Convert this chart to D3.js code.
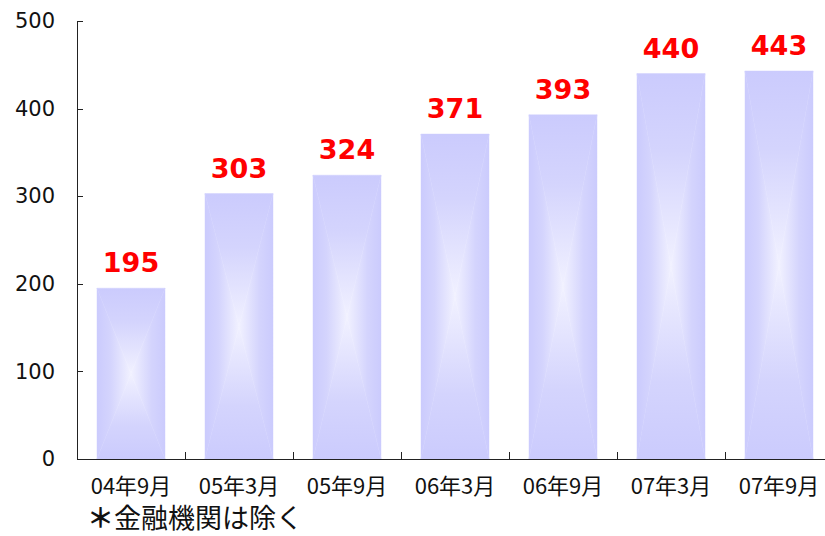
<!DOCTYPE html>
<html>
<head>
<meta charset="utf-8">
<script src="https://cdn.jsdelivr.net/npm/d3@7"></script>
<style>
  html, body { margin: 0; padding: 0; background: #fff; }
  svg { display: block; }
  .axis path, .axis line { stroke: #222; shape-rendering: crispEdges; }
  .y-label { font-family: "DejaVu Sans", sans-serif; font-size: 21px; fill: #111; }
  .x-label { font-family: "Noto Sans CJK JP", sans-serif; font-size: 22px; fill: #111; }
  .value-label { font-family: "DejaVu Sans", sans-serif; font-weight: bold; font-size: 27px; fill: #ff0000; }
  .note { font-family: "Noto Sans CJK JP", sans-serif; font-size: 27px; fill: #111; }
</style>
</head>
<body>
<div id="chart"></div>
<script>
// data
var categories = ['04年9月', '05年3月', '05年9月', '06年3月', '06年9月', '07年3月', '07年9月'];
var counts = [195, 303, 324, 371, 393, 440, 443];
var yTicks = [0, 100, 200, 300, 400, 500];
var footnoteMark = '＊';
var footnote = '金融機関は除く';

var width = 825,
    height = 536,
    margin = { top: 21, left: 77, bottom: 77 },
    step = 108;

var svg = d3.select('#chart').append('svg')
  .attr('width', width)
  .attr('height', height);

// band per category, bar takes the middle part of each band
var x = d3.scaleBand()
  .domain(categories)
  .range([margin.left, margin.left + step * categories.length])
  .padding(0);

var barWidth = x.bandwidth() * 0.63;

var y = d3.scaleLinear()
  .domain([0, 500])
  .range([height - margin.bottom, margin.top]);

// rectangular "from centre" fill: four triangles, each shaded edge -> centre
var gradStops = [
  { offset: '0%', color: '#cbcbfd' },
  { offset: '40%', color: '#d4d4fd' },
  { offset: '100%', color: '#f1f1ff' }
];

var defs = svg.append('defs');
[
  { id: 'g-top', x1: 0, y1: 0, x2: 0, y2: 1 },
  { id: 'g-bottom', x1: 0, y1: 1, x2: 0, y2: 0 },
  { id: 'g-left', x1: 0, y1: 0, x2: 1, y2: 0 },
  { id: 'g-right', x1: 1, y1: 0, x2: 0, y2: 0 }
].forEach(function(g) {
  var grad = defs.append('linearGradient')
    .attr('id', g.id)
    .attr('x1', g.x1).attr('y1', g.y1)
    .attr('x2', g.x2).attr('y2', g.y2);
  gradStops.forEach(function(s) {
    grad.append('stop').attr('offset', s.offset).attr('stop-color', s.color);
  });
});

var bars = svg.append('g')
  .attr('class', 'bars')
  .selectAll('g.bar')
  .data(categories.map(function(c, i) { return { cat: c, value: counts[i] }; }))
  .enter()
  .append('g')
  .attr('class', 'bar');

bars.each(function(d) {
  var g = d3.select(this),
      x0 = x(d.cat) + (x.bandwidth() - barWidth) / 2,
      x1 = x0 + barWidth,
      y0 = y(d.value),
      y1 = y(0),
      cx = (x0 + x1) / 2,
      cy = (y0 + y1) / 2;

  var tris = [
    { fill: 'g-top', pts: [[x0, y0], [x1, y0], [cx, cy]] },
    { fill: 'g-bottom', pts: [[x0, y1], [x1, y1], [cx, cy]] },
    { fill: 'g-left', pts: [[x0, y0], [x0, y1], [cx, cy]] },
    { fill: 'g-right', pts: [[x1, y0], [x1, y1], [cx, cy]] }
  ];

  g.selectAll('path')
    .data(tris)
    .enter()
    .append('path')
    .attr('d', function(t) { return 'M' + t.pts.join('L') + 'Z'; })
    .attr('fill', function(t) { return 'url(#' + t.fill + ')'; })
    .attr('stroke', function(t) { return 'url(#' + t.fill + ')'; })
    .attr('stroke-width', 0.4);
});

// value labels above bars
bars.append('text')
  .attr('class', 'value-label')
  .attr('x', function(d) { return x(d.cat) + x.bandwidth() / 2; })
  .attr('y', function(d) { return y(d.value) - 16; })
  .attr('text-anchor', 'middle')
  .text(function(d) { return d.value; });

// y axis, ticks pointing into the plot
var yAxis = svg.append('g')
  .attr('class', 'axis y-axis')
  .attr('transform', 'translate(' + margin.left + ',0)')
  .call(d3.axisLeft(y)
    .tickValues(yTicks)
    .tickSizeInner(-6)
    .tickSizeOuter(0)
    .tickPadding(22));

yAxis.attr('font-size', null).attr('font-family', null);
yAxis.selectAll('text')
  .attr('class', 'y-label')
  .attr('fill', null);

// x axis: baseline, boundary ticks pointing up, centred labels
var xAxis = svg.append('g')
  .attr('class', 'axis x-axis')
  .attr('transform', 'translate(0,' + y(0) + ')');

xAxis.append('line')
  .attr('x1', margin.left)
  .attr('x2', x.range()[1])
  .attr('y1', 0.5)
  .attr('y2', 0.5);

xAxis.selectAll('line.tick')
  .data(categories)
  .enter()
  .append('line')
  .attr('class', 'tick')
  .attr('x1', function(d) { return Math.round(x(d) + x.bandwidth()) + 0.5; })
  .attr('x2', function(d) { return Math.round(x(d) + x.bandwidth()) + 0.5; })
  .attr('y1', 0)
  .attr('y2', -7);

xAxis.selectAll('text')
  .data(categories)
  .enter()
  .append('text')
  .attr('class', 'x-label')
  .attr('x', function(d) { return x(d) + x.bandwidth() / 2; })
  .attr('y', 35)
  .attr('text-anchor', 'middle')
  .text(function(d) { return d; });

var note = svg.append('text')
  .attr('class', 'note')
  .attr('x', 87)
  .attr('y', 528);

note.append('tspan')
  .attr('font-weight', 'bold')
  .text(footnoteMark);
note.append('tspan')
  .text(footnote);
</script>
</body>
</html>
